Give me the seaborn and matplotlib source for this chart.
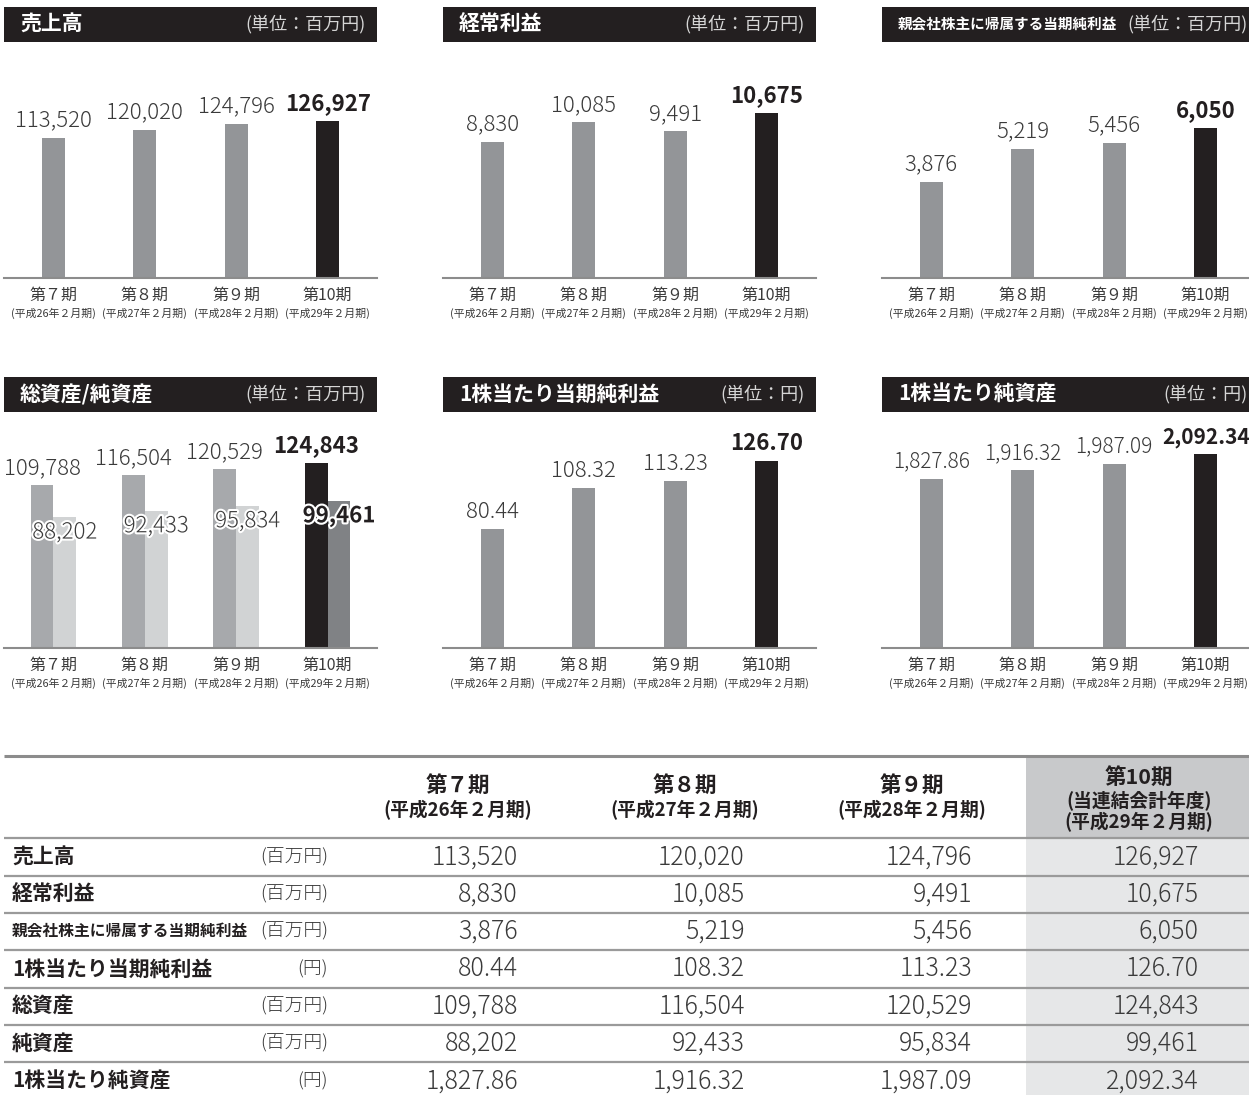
import matplotlib
matplotlib.use("Agg")
import matplotlib.pyplot as plt
import matplotlib.patheffects as pe
from matplotlib.patches import Rectangle
import pandas as pd
import seaborn as sns

sns.set_theme(style="white")
plt.rcParams["font.family"] = ["Noto Sans CJK JP", "DejaVu Sans"]

# データ
periods = ["第７期", "第８期", "第９期", "第10期"]
period_years = ["(平成26年２月期)", "(平成27年２月期)", "(平成28年２月期)", "(平成29年２月期)"]
sales = [113520, 120020, 124796, 126927]
ordinary_income = [8830, 10085, 9491, 10675]
net_income = [3876, 5219, 5456, 6050]
eps = [80.44, 108.32, 113.23, 126.70]
total_assets = [109788, 116504, 120529, 124843]
net_assets = [88202, 92433, 95834, 99461]
bps = [1827.86, 1916.32, 1987.09, 2092.34]

row_labels = ["売上高", "経常利益", "親会社株主に帰属する当期純利益", "1株当たり当期純利益",
              "総資産", "純資産", "1株当たり純資産"]
row_units = ["(百万円)", "(百万円)", "(百万円)", "(円)", "(百万円)", "(百万円)", "(円)"]
row_values = [sales, ordinary_income, net_income, eps, total_assets, net_assets, bps]
row_fmts = ["{:,.0f}", "{:,.0f}", "{:,.0f}", "{:,.2f}", "{:,.0f}", "{:,.0f}", "{:,.2f}"]

# 色
DARK = "#231f20"
GRAY = "#939598"
TA_GRAY = "#a7a9ac"
NA_GRAY = "#d1d3d4"
NA_DARK = "#808285"
TEXT = "#3a3a3a"
LINE = "#8c8c8c"

W, H = 1249, 1095
fig = plt.figure(figsize=(W / 100, H / 100), dpi=100)


def px_axes(x, y, w, h):
    # ピクセル座標(左上基準)で軸を作る
    return fig.add_axes([x / W, 1 - (y + h) / H, w / W, h / H])


def header(x, y, title, unit, title_size=15, unit_pad=11):
    hx = px_axes(x, y, 373, 35)
    hx.set_facecolor(DARK)
    hx.set_xticks([])
    hx.set_yticks([])
    for s in hx.spines.values():
        s.set_visible(False)
    hx.text(16 / 373, 0.5, title, transform=hx.transAxes, color="white",
            fontsize=title_size, fontweight="bold", ha="left", va="center")
    hx.text(1 - unit_pad / 373, 0.5, unit, transform=hx.transAxes, color="#d6d6d6",
            fontsize=13, ha="right", va="center")


def style_axis(ax, top):
    ax.set_xlim(-0.54, 3.54)
    ax.set_ylim(0, top)
    ax.set_xticks([])
    ax.set_yticks([])
    ax.set_xlabel("")
    ax.set_ylabel("")
    sns.despine(ax=ax, left=True)
    ax.spines["bottom"].set_color(LINE)
    ax.spines["bottom"].set_linewidth(1.5)
    for i, (p, yr) in enumerate(zip(periods, period_years)):
        ax.annotate(p, xy=(i, 0), xytext=(0, -12.5), textcoords="offset points",
                    ha="center", va="center", fontsize=11.5, color=TEXT, annotation_clip=False)
        ax.annotate(yr, xy=(i, 0), xytext=(0, -25.5), textcoords="offset points",
                    ha="center", va="center", fontsize=7.8, color=TEXT, annotation_clip=False)


def value_label(ax, bar, text, last, dy=4.5, va="bottom", outline=False, size=16):
    cx = bar.get_x() + bar.get_width() / 2
    t = ax.annotate(text, xy=(cx, bar.get_height()), xytext=(0, dy), textcoords="offset points",
                    ha="center", va=va, fontsize=size,
                    fontweight="bold" if last else "light",
                    color=DARK if last else TEXT, annotation_clip=False)
    if outline:
        t.set_path_effects([pe.withStroke(linewidth=3, foreground="white")])


def bar_chart(x, base, values, fmt, headroom, label_size=16):
    ax = px_axes(x, base - 200, 373, 200)
    df = pd.DataFrame({"period": periods, "value": values})
    sns.barplot(data=df, x="period", y="value", hue="period",
                palette=[GRAY, GRAY, GRAY, DARK], width=0.25, saturation=1,
                linewidth=0, legend=False, ax=ax)
    bars = sorted(ax.patches, key=lambda b: b.get_x())
    for i, (bar, v) in enumerate(zip(bars, values)):
        value_label(ax, bar, fmt.format(v), i == len(values) - 1, size=label_size)
    style_axis(ax, max(values) * headroom)
    return ax


cols = [4, 443, 882]
header_tops = [7, 377]
baselines = [278, 648]

# 上段
header(cols[0], header_tops[0], "売上高", "(単位：百万円)")
bar_chart(cols[0], baselines[0], sales, "{:,.0f}", 1.274)
header(cols[1], header_tops[0], "経常利益", "(単位：百万円)")
bar_chart(cols[1], baselines[0], ordinary_income, "{:,.0f}", 1.212)
header(cols[2], header_tops[0], "親会社株主に帰属する当期純利益", "(単位：百万円)",
       title_size=10.5, unit_pad=7)
bar_chart(cols[2], baselines[0], net_income, "{:,.0f}", 1.333)

# 下段: 総資産/純資産
header(cols[0], header_tops[1], "総資産/純資産", "(単位：百万円)")
ax4 = px_axes(cols[0], baselines[1] - 200, 373, 200)
df4 = pd.DataFrame({"period": periods * 2,
                    "kind": ["総資産"] * 4 + ["純資産"] * 4,
                    "value": total_assets + net_assets})
sns.barplot(data=df4, x="period", y="value", hue="kind", palette=[TA_GRAY, NA_GRAY],
            width=0.5, saturation=1, linewidth=0, legend=False, ax=ax4)
ta_bars, na_bars = ax4.containers
ta_bars[3].set_facecolor(DARK)
na_bars[3].set_facecolor(NA_DARK)
for i, (bar, v) in enumerate(zip(ta_bars, total_assets)):
    value_label(ax4, bar, f"{v:,}", i == 3)
for i, (bar, v) in enumerate(zip(na_bars, net_assets)):
    value_label(ax4, bar, f"{v:,}", i == 3, dy=-11, va="center", outline=True)
style_axis(ax4, max(total_assets) * 1.081)

header(cols[1], header_tops[1], "1株当たり当期純利益", "(単位：円)")
bar_chart(cols[1], baselines[1], eps, "{:,.2f}", 1.070)
header(cols[2], header_tops[1], "1株当たり純資産", "(単位：円)", unit_pad=7)
bar_chart(cols[2], baselines[1], bps, "{:,.2f}", 1.031, label_size=15)

# 表
tab = fig.add_axes([0, 0, 1, (H - 740) / H])
tab.set_xlim(0, W)
tab.set_ylim(H, 740)
tab.axis("off")

top_line = 756
head_bottom = 838.3
row_h = 37.35
col_centers = [458, 685, 912, 1139]
shade_x = 1026

tab.add_patch(Rectangle((shade_x, top_line), W - shade_x, head_bottom - top_line,
                        facecolor="#c8c9cb", edgecolor="none"))
tab.add_patch(Rectangle((shade_x, head_bottom), W - shade_x, row_h * 7 + 10,
                        facecolor="#e6e7e8", edgecolor="none"))

tab.hlines(top_line, 4, W, color=LINE, lw=2.2)
for k in range(len(row_labels)):
    tab.hlines(head_bottom + k * row_h, 4, W, color="#9a9a9a", lw=1.6)

for j, (p, yr) in enumerate(zip(periods, period_years)):
    cx = col_centers[j]
    if j < 3:
        tab.text(cx, 785, p, ha="center", va="center", fontsize=15.5, fontweight="bold", color=DARK)
        tab.text(cx, 810, yr, ha="center", va="center", fontsize=13.5, fontweight="bold", color=DARK)
    else:
        tab.text(cx, 777, p, ha="center", va="center", fontsize=15.5, fontweight="bold", color=DARK)
        tab.text(cx, 801, "(当連結会計年度)", ha="center", va="center", fontsize=13.5,
                 fontweight="bold", color=DARK)
        tab.text(cx, 822, yr, ha="center", va="center", fontsize=13.5, fontweight="bold", color=DARK)

for k, (lab, unit, vals, fmt) in enumerate(zip(row_labels, row_units, row_values, row_fmts)):
    cy = head_bottom + (k + 0.5) * row_h
    size = 11.3 if len(lab) > 12 else 15
    tab.text(12, cy, lab, ha="left", va="center", fontsize=size, fontweight="bold", color=DARK)
    tab.text(328, cy, unit, ha="right", va="center", fontsize=13.5, fontweight="light", color=TEXT)
    for j, v in enumerate(vals):
        tab.text(col_centers[j] + 60, cy, fmt.format(v), ha="right", va="center",
                 fontsize=18, fontweight="light", color=TEXT)

fig.savefig("out.png", dpi=100, facecolor="white")
